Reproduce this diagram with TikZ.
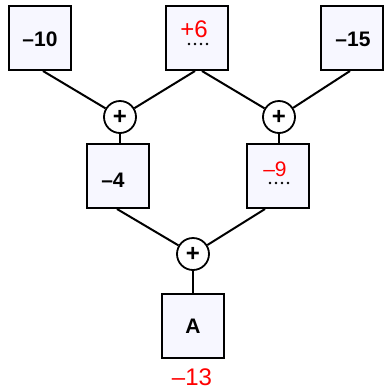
\documentclass[tikz,border=0pt]{standalone}
\usepackage{fontspec}
\setmainfont{Liberation Sans}
\begin{document}
\begin{tikzpicture}[x=1pt,y=-1pt,
  box/.style={draw,line width=2pt,fill=blue!3,minimum width=62pt,minimum height=64pt,inner sep=0pt},
  plus/.style={draw,circle,line width=1.8pt,fill=white,minimum size=32pt,inner sep=0pt,font=\fontsize{24}{24}\selectfont\bfseries},
  conn/.style={line width=2pt},
  num/.style={inner sep=0pt,font=\fontsize{21}{21}\selectfont\bfseries},
  red/.style={inner sep=0pt,text height=17pt,text depth=0pt,text=red,font=\fontsize{24}{24}\selectfont},
  dotline/.style={line width=2.6pt,line cap=round,dash pattern=on 0pt off 6pt}]
\useasboundingbox (0,0) rectangle (384,392);
\node[box] (b1) at (40,38) {};
\node[box] (b2) at (197,38) {};
\node[box] (b3) at (352,38) {};
\node[box] (b4) at (118,176) {};
\node[box] (b5) at (278,176) {};
\node[box] (b6) at (193,326) {};
\node[num] (t1) at (40,39) {–10};
\node[red] (t2) at (194,29) {+6};
\node[num] (t3) at (353,39) {–15};
\node[num] (t4) at (113,180) {–4};
\node[red,font=\fontsize{21}{21}\selectfont,text height=15pt] (t5) at (275,169) {–9};
\node[num] (t6) at (193,326) {A};
\node[red] (t7) at (192,377) {–13};
\coordinate (d2a) at (189,44);
\coordinate (d2b) at (208,44);
\coordinate (d5a) at (270,183);
\coordinate (d5b) at (289,183);
\draw[dotline] (d2a) -- (d2b);
\draw[dotline] (d5a) -- (d5b);
\node[plus] (p1) at (120,117) {+};
\node[plus] (p2) at (279,117) {+};
\node[plus] (p3) at (193,254) {+};
\draw[conn] ([xshift=3pt]b1.south) -- (p1);
\draw[conn] ([xshift=-2pt]b2.south) -- (p1);
\draw[conn] ([xshift=5pt]b2.south) -- (p2);
\draw[conn] ([xshift=-2pt]b3.south) -- (p2);
\draw[conn] (p1) -- (b4.north -| p1);
\draw[conn] (p2) -- (b5.north -| p2);
\draw[conn] ([xshift=-1pt]b4.south) -- (p3);
\draw[conn] ([xshift=-13pt]b5.south) -- (p3);
\draw[conn] (p3) -- (b6);
\end{tikzpicture}
\end{document}
